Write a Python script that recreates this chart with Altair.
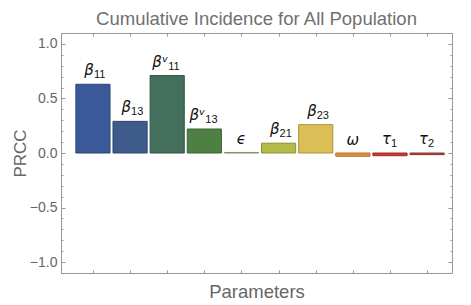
import altair as alt
import pandas as pd

params = ["b11", "b13", "bv11", "bv13", "eps", "b21", "b23", "omega", "tau1", "tau2"]
positions = [1, 2, 3, 4, 5, 6, 7, 8, 9, 10]
bases = ["β", "β", "βᵛ", "βᵛ", "ϵ", "β", "β", "ω", "τ", "τ"]
subs = ["11", "13", "11", "13", "", "21", "23", "", "1", "2"]
values = [0.63, 0.29, 0.71, 0.22, 0.005, 0.09, 0.26, -0.03, -0.025, -0.015]
fills = ["#3b5998", "#3f5b8c", "#436f5c", "#4f8043", "#b0b290", "#b5bb48",
         "#dcbe57", "#e0913f", "#cc3a35", "#b84440"]
strokes = ["#2c4576", "#2f466e", "#325545", "#3c6332", "#8a8c6a", "#8d9233",
           "#ad933d", "#b0702c", "#9e2a26", "#8e322e"]
y_major = [-1.0, -0.5, 0.0, 0.5, 1.0]
y_minor = [-1.1, -1.0, -0.9, -0.8, -0.7, -0.6, -0.5, -0.4, -0.3, -0.2, -0.1, 0.0,
           0.1, 0.2, 0.3, 0.4, 0.5, 0.6, 0.7, 0.8, 0.9, 1.0, 1.1]

W, H = 391, 240
GRAY = "#999999"
TXT = "#666666"

df = pd.DataFrame({"param": params, "idx": positions, "base": bases,
                   "sub": subs, "value": values})

base = alt.Chart(df).transform_calculate(
    lo="datum.idx - 0.46", hi="datum.idx + 0.46", zero="0",
    top="max(datum.value, 0)")

xs = alt.Scale(domain=[0.14, 10.67], nice=False, zero=False)
ys = alt.Scale(domain=[-1.1, 1.1], nice=False, zero=False)

bars = base.mark_bar(strokeWidth=1).encode(
    x=alt.X("lo:Q", scale=xs, axis=alt.Axis(
        title="Parameters", labels=False, ticks=False, domain=False, grid=False,
        titleFont="Liberation Sans", titleFontSize=18.5, titleFontWeight="normal",
        titleColor=TXT, titlePadding=9)),
    x2="hi:Q",
    y=alt.Y("value:Q", scale=ys, axis=alt.Axis(
        orient="left", values=y_major, format=".1f", ticks=False, domain=False,
        grid=False, labelFont="Liberation Sans", labelFontSize=14,
        labelColor=TXT, labelPadding=4, title="PRCC",
        titleFont="Liberation Sans", titleFontSize=17, titleFontWeight="normal",
        titleColor=TXT, titlePadding=0)),
    y2="zero:Q",
    fill=alt.Fill("param:N", scale=alt.Scale(domain=params, range=fills), legend=None),
    stroke=alt.Stroke("param:N", scale=alt.Scale(domain=params, range=strokes), legend=None),
)


def tick_axis(orient, vals, size):
    return alt.Axis(orient=orient, offset=-(W if orient in ("left", "right") else H),
                    values=vals, labels=False, domain=False, grid=False,
                    tickSize=size, tickColor=GRAY, tickWidth=1, title=None)


def axis_layer(xaxis, yaxis):
    return base.mark_point(opacity=0).encode(
        x=alt.X("idx:Q", scale=xs, axis=xaxis),
        y=alt.Y("value:Q", scale=ys, axis=yaxis))


l2 = axis_layer(tick_axis("top", positions, 3), tick_axis("right", y_major, 4))
l3 = axis_layer(tick_axis("bottom", positions, 3), tick_axis("right", y_minor, 2))
l4 = axis_layer(None, tick_axis("left", y_major, 4))
l5 = axis_layer(None, tick_axis("left", y_minor, 2))

enc = dict(x=alt.X("idx:Q", scale=xs, axis=None),
           y=alt.Y("top:Q", scale=ys, axis=None))

t_base = base.transform_filter("datum.sub != ''").mark_text(
    align="right", baseline="alphabetic", dy=-9, dx=1, font="DejaVu Sans",
    fontStyle="italic", fontSize=15, color="#111111").encode(text="base:N", **enc)
t_sub = base.transform_filter("datum.sub != ''").mark_text(
    align="left", baseline="alphabetic", dy=-6, dx=1, font="Liberation Sans",
    fontSize=11, color="#111111").encode(text="sub:N", **enc)
t_plain = base.transform_filter("datum.sub == ''").mark_text(
    align="center", baseline="alphabetic", dy=-8, font="DejaVu Sans",
    fontStyle="italic", fontSize=15, color="#111111").encode(text="base:N", **enc)

chart = alt.layer(bars, l2, l3, l4, l5, t_base, t_sub, t_plain).resolve_scale(
    x="independent", y="independent"
).properties(
    width=W, height=H,
    autosize=alt.AutoSizeParams(type="none"),
    padding={"left": 53, "top": 25, "right": 11, "bottom": 30},
    title=alt.TitleParams("Cumulative Incidence for All Population",
                          font="Liberation Sans", fontSize=18.5, fontWeight="normal",
                          color="#707070", anchor="middle", offset=4),
).configure_view(stroke=GRAY, strokeWidth=1)

chart.save("out.html", embed_options={"renderer": "svg", "actions": False})
